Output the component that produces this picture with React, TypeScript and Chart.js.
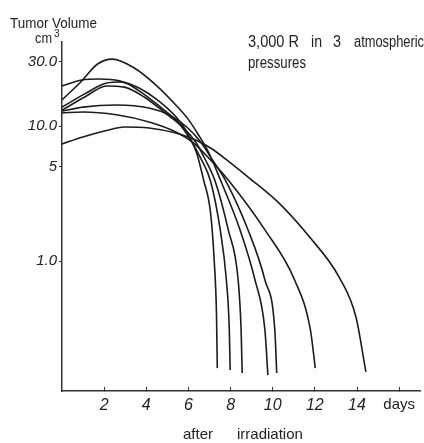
import React, { useEffect, useRef } from 'react';
import { Chart, registerables } from 'chart.js';

Chart.register(...registerables);

// ---- Data (days after irradiation, tumor volume in cm3) ----
const curveADays = [0, 0.89, 1.69, 2.39, 3.43, 4.46, 5.4, 6.01, 6.48, 6.95, 7.52, 8.45, 9.16, 9.63, 9.77];
const curveAVolumes = [15.6, 21.2, 28.8, 31.3, 26.9, 20.1, 14.3, 11.1, 8.58, 6.42, 3.98, 1.7, 0.723, 0.308, 0.143];

const curveBDays = [0, 0.94, 1.78, 2.72, 3.66, 4.6, 5.45, 6.01, 6.39, 6.72, 7.05, 7.23, 7.33, 7.37];
const curveBVolumes = [19.8, 21.9, 22.3, 21.6, 19.1, 15.3, 11.5, 8.58, 6.31, 3.98, 2.27, 0.967, 0.412, 0.161];

const curveCDays = [0, 1.08, 2.11, 2.82, 3.66, 4.6, 5.54, 6.11, 6.58, 7.05, 7.51, 7.8, 7.94, 7.98];
const curveCVolumes = [13.8, 17.3, 20.8, 21.2, 18.2, 14.1, 10.5, 7.87, 5.79, 3.9, 1.7, 0.723, 0.308, 0.156];

const curveDDays = [0, 1.08, 2.11, 2.96, 3.9, 4.84, 5.78, 6.34, 6.81, 7.28, 7.89, 8.36, 8.5, 8.55];
const curveDVolumes = [13.1, 16.4, 19.8, 19.4, 16.4, 12.7, 9.67, 7.61, 5.6, 3.85, 1.7, 0.723, 0.308, 0.148];

const curveEDays = [0, 0.99, 2.58, 4.13, 5.07, 5.92, 6.58, 7.14, 7.75, 8.83, 9.63, 10.1, 10.19];
const curveEVolumes = [12.9, 13.8, 14.3, 13.6, 12.1, 9.83, 7.61, 5.6, 3.98, 1.7, 0.723, 0.308, 0.148];

const curveFDays = [0, 0.99, 2.58, 4.13, 5.4, 6.25, 7.05, 7.89, 9.63, 11.04, 11.79, 12.02];
const curveFVolumes = [12.5, 12.7, 12.1, 10.7, 9.03, 7.48, 5.6, 3.98, 1.7, 0.723, 0.308, 0.161];

const curveGDays = [0, 0.99, 2.02, 2.96, 4.13, 5.4, 6.34, 7.05, 7.89, 8.83, 10.24, 11.74, 13.15, 13.95, 14.42];
const curveGVolumes = [7.36, 8.29, 9.18, 9.83, 9.66, 8.87, 7.87, 6.87, 5.5, 4.19, 2.74, 1.51, 0.761, 0.385, 0.151];

const xTickValues = [2, 4, 6, 8, 10, 12, 14, 16];
const xTickLabels = ['2', '4', '6', '8', '10', '12', '14', 'days'];
const yTickValues = [1, 5, 10, 30];
const yTickLabels = ['1.0', '5', '10.0', '30.0'];

const yAxisTitle = 'Tumor Volume';
const yAxisUnit = 'cm';
const yAxisUnitSup = '3';
const noteLine1Words = ['3,000 R', 'in', '3', 'atmospheric'];
const noteLine2 = 'pressures';
const xAxisTitleWords = ['after', 'irradiation'];

const series: [number[], number[]][] = [
  [curveADays, curveAVolumes],
  [curveBDays, curveBVolumes],
  [curveCDays, curveCVolumes],
  [curveDDays, curveDVolumes],
  [curveEDays, curveEVolumes],
  [curveFDays, curveFVolumes],
  [curveGDays, curveGVolumes],
];

const FONT = '"Liberation Sans", Arial, sans-serif';
const INK = '#222';

const textPlugin = {
  id: 'handTexts',
  afterDraw(chart: any) {
    const ctx = chart.ctx as CanvasRenderingContext2D;
    ctx.save();
    ctx.fillStyle = INK;
    ctx.textAlign = 'left';
    ctx.textBaseline = 'alphabetic';
    const put = (t: string, x: number, y: number, size: number, maxW?: number) => {
      ctx.font = `normal ${size}px ${FONT}`;
      if (maxW) ctx.fillText(t, x, y, maxW);
      else ctx.fillText(t, x, y);
    };
    put(yAxisTitle, 10, 28, 15, 87);
    put(yAxisUnit, 35, 43, 15, 17);
    put(yAxisUnitSup, 54, 37, 10);
    const noteX = [248, 311, 333, 354];
    const noteW = [51, 11, 8, 70];
    noteLine1Words.forEach((w, i) => put(w, noteX[i], 47, 16, noteW[i]));
    put(noteLine2, 248, 68, 16, 58);
    put(xAxisTitleWords[0], 183, 439, 15, 32);
    put(xAxisTitleWords[1], 237, 439, 15, 67);
    ctx.restore();
  },
};

export default function App() {
  const ref = useRef<HTMLCanvasElement>(null);
  useEffect(() => {
    if (!ref.current) return;
    const chart = new Chart(ref.current, {
      type: 'line',
      data: {
        datasets: series.map(([d, v], k) => ({
          label: 'curve ' + (k + 1),
          data: d.map((x, i) => ({ x, y: v[i] })),
          borderColor: '#1c1c1c',
          borderWidth: 1.6,
          pointRadius: 0,
          cubicInterpolationMode: 'monotone',
          fill: false,
        })),
      },
      plugins: [textPlugin],
      options: {
        responsive: false,
        animation: false,
        layout: { padding: { top: 42, right: 0, left: 0, bottom: 0 } },
        plugins: { legend: { display: false }, tooltip: { enabled: false }, title: { display: false } },
        scales: {
          x: {
            type: 'linear',
            min: 0,
            max: 17,
            afterFit: (s: any) => { s.height = 52; },
            afterBuildTicks: (s: any) => { s.ticks = xTickValues.map((value) => ({ value })); },
            grid: { drawOnChartArea: false, tickLength: -4, color: '#333', lineWidth: 1 },
            border: { display: true, color: '#333', width: 1.5 },
            ticks: {
              padding: 9,
              maxRotation: 0,
              autoSkip: false,
              color: INK,
              font: (c: any) =>
                c.tick && c.tick.value === 16
                  ? { family: FONT, size: 15, style: 'normal' }
                  : { family: FONT, size: 16, style: 'italic' },
              callback: (_v: any, i: number) => xTickLabels[i],
            },
          },
          y: {
            type: 'logarithmic',
            min: 0.109,
            max: 41.9,
            afterFit: (s: any) => { s.width = 62; },
            afterBuildTicks: (s: any) => { s.ticks = yTickValues.map((value) => ({ value })); },
            grid: { drawOnChartArea: false, tickLength: 3, color: '#333', lineWidth: 1 },
            border: { display: true, color: '#333', width: 1.5 },
            ticks: {
              padding: 2,
              autoSkip: false,
              color: INK,
              font: { family: FONT, size: 15, style: 'italic' },
              callback: (_v: any, i: number) => yTickLabels[i],
            },
          },
        },
      },
    });
    return () => chart.destroy();
  }, []);
  return (
    <div style={{ position: 'fixed', left: 0, top: 0, width: 424, height: 443, background: '#fff' }}>
      <canvas ref={ref} width={424} height={443} style={{ display: 'block' }} />
    </div>
  );
}
